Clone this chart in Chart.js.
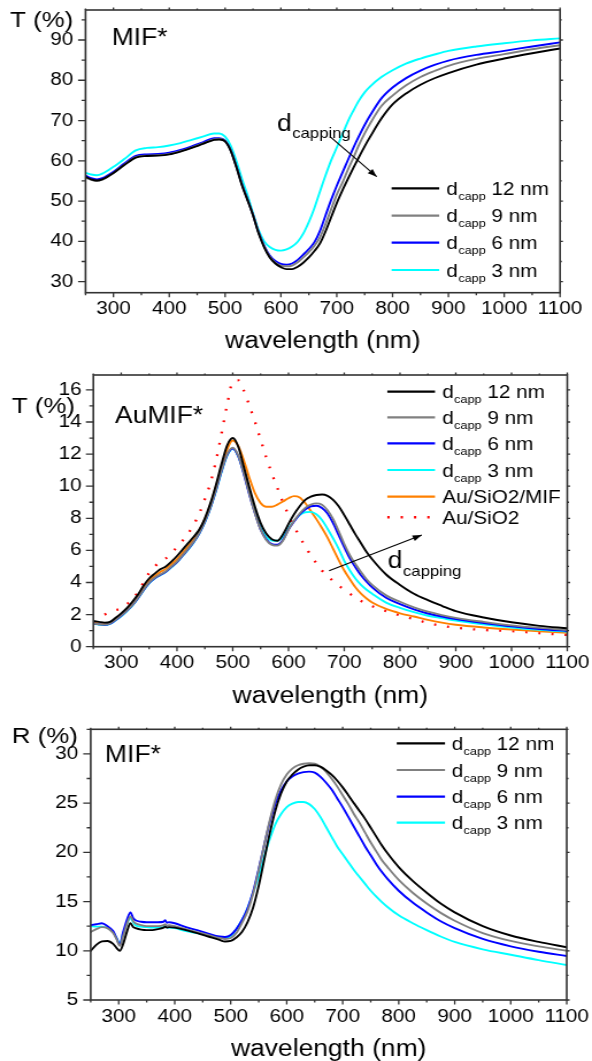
<!DOCTYPE html>
<html>
<head>
<meta charset="utf-8">
<script src="https://cdn.jsdelivr.net/npm/chart.js@4.4.1/dist/chart.umd.min.js"></script>
<style>
html,body{margin:0;padding:0;background:#fff;width:592px;height:1061px;overflow:hidden;position:relative}
canvas{position:absolute;left:0}
</style>
</head>
<body>
<canvas id="c1" width="515" height="355" style="top:0px;width:592px;height:355px"></canvas>
<canvas id="c2" width="515" height="355" style="top:355px;width:592px;height:355px"></canvas>
<canvas id="c3" width="515" height="353" style="top:710px;width:592px;height:353px"></canvas>
<script>
// ---------------- DATA ----------------
const xTicks = [300, 400, 500, 600, 700, 800, 900, 1000, 1100];

// Panel 1: transmission, MIF*
const p1Wavelength = [250,260,270,280,300,320,340,360,380,400,420,440,460,480,490,500,510,520,530,540,550,560,570,580,590,600,610,620,630,640,650,660,670,680,690,700,710,720,730,740,750,760,780,800,825,850,875,900,950,1000,1050,1100];
const p1T12 = [56.0,55.4,55.1,55.4,57.0,59.0,60.8,61.2,61.3,61.6,62.3,63.2,64.2,65.2,65.3,64.8,62.5,58.5,54.0,50.3,46.5,42.0,38.5,36.0,34.5,33.6,33.1,33.1,33.7,34.7,36.0,37.6,39.5,42.5,46.0,49.5,52.6,55.5,58.3,61.0,63.6,66.0,70.5,74.0,76.8,78.9,80.5,81.8,83.9,85.4,86.7,87.9];
const p1T9  = [55.8,55.3,55.0,55.3,57.0,59.1,60.9,61.3,61.4,61.7,62.4,63.3,64.3,65.3,65.4,64.9,62.6,58.6,54.2,50.4,46.5,42.2,38.7,36.2,34.7,34.0,33.8,34.0,34.8,36.0,37.3,38.9,41.0,44.3,48.0,51.6,54.5,57.8,60.8,64.0,66.8,69.3,73.6,76.2,78.8,80.8,82.3,83.6,85.3,86.5,87.7,88.7];
const p1T6  = [56.3,55.7,55.4,55.7,57.3,59.4,61.2,61.6,61.7,62.0,62.7,63.6,64.6,65.6,65.6,65.0,62.7,58.7,54.3,50.5,46.6,42.3,38.9,36.5,35.1,34.4,34.2,34.5,35.4,36.7,38.1,39.8,42.6,46.5,50.3,53.8,57.0,60.2,63.3,66.2,68.9,71.3,75.5,78.2,80.6,82.4,83.8,84.9,86.3,87.3,88.4,89.4];
const p1T3  = [57.0,56.6,56.4,56.8,58.5,60.5,62.6,63.2,63.4,63.8,64.4,65.2,66.0,66.8,66.8,66.0,63.8,60.0,55.6,51.5,47.0,42.8,40.0,38.6,37.9,37.7,38.0,38.7,39.9,41.9,44.8,48.3,52.4,56.4,60.1,63.3,66.5,69.8,72.5,75.0,77.0,78.5,80.8,82.5,84.2,85.4,86.4,87.3,88.4,89.2,89.9,90.4];
const p1YTicks = [30, 40, 50, 60, 70, 80, 90];

// Panel 2: transmission, AuMIF*
const p2Wavelength = [250,260,270,280,290,300,310,320,330,340,350,360,370,380,390,400,410,420,430,440,450,460,470,480,490,500,510,520,530,540,550,560,570,580,590,600,610,620,630,640,650,660,670,680,690,700,710,720,730,740,750,775,800,825,850,875,900,950,1000,1050,1100];
const p2T12 = [1.6,1.55,1.5,1.55,1.8,2.08,2.4,2.8,3.25,3.8,4.25,4.55,4.82,5.0,5.3,5.65,6.05,6.45,6.85,7.3,8.0,8.95,10.1,11.4,12.55,13.0,12.45,11.2,9.9,8.7,7.7,7.05,6.7,6.6,7.0,7.65,8.25,8.75,9.15,9.35,9.45,9.48,9.4,9.15,8.75,8.2,7.6,7.0,6.45,5.9,5.45,4.5,3.85,3.3,2.9,2.55,2.22,1.82,1.52,1.3,1.15];
const p2T9  = [1.45,1.4,1.38,1.45,1.68,1.95,2.25,2.6,3.05,3.55,4.0,4.3,4.5,4.7,5.0,5.3,5.7,6.1,6.55,7.1,7.8,8.7,9.8,11.0,12.0,12.4,11.9,10.8,9.5,8.3,7.3,6.65,6.35,6.3,6.6,7.3,7.85,8.3,8.65,8.85,8.93,8.85,8.5,7.95,7.2,6.4,5.7,5.15,4.65,4.2,3.85,3.2,2.8,2.45,2.18,1.97,1.8,1.55,1.33,1.17,1.04];
const p2T6  = [1.45,1.4,1.37,1.44,1.66,1.93,2.23,2.58,3.02,3.52,3.97,4.27,4.47,4.67,4.97,5.27,5.67,6.07,6.52,7.07,7.77,8.67,9.75,10.95,11.95,12.35,11.85,10.75,9.45,8.3,7.3,6.7,6.4,6.35,6.65,7.3,7.8,8.25,8.55,8.75,8.78,8.65,8.3,7.7,6.95,6.2,5.5,4.95,4.45,4.05,3.7,3.05,2.65,2.33,2.07,1.88,1.72,1.48,1.27,1.1,0.98];
const p2T3  = [1.42,1.38,1.35,1.42,1.64,1.9,2.2,2.55,3.0,3.5,3.95,4.25,4.45,4.65,4.95,5.25,5.65,6.05,6.5,7.05,7.75,8.65,9.7,10.9,11.9,12.35,11.85,10.8,9.55,8.4,7.45,6.85,6.62,6.6,6.85,7.4,7.85,8.2,8.38,8.4,8.25,7.9,7.35,6.75,6.1,5.35,4.75,4.25,3.85,3.55,3.3,2.75,2.42,2.15,1.93,1.78,1.63,1.4,1.2,1.05,0.93];
const p2AuSiO2MIF = [1.5,1.45,1.42,1.5,1.72,2.0,2.3,2.68,3.12,3.65,4.1,4.4,4.65,4.85,5.15,5.45,5.85,6.25,6.7,7.25,7.95,8.85,10.0,11.2,12.3,12.85,12.5,11.6,10.5,9.55,8.95,8.72,8.72,8.85,9.05,9.25,9.38,9.3,8.95,8.45,7.95,7.4,6.8,6.1,5.4,4.75,4.2,3.7,3.3,3.0,2.75,2.35,2.08,1.88,1.67,1.5,1.37,1.2,1.07,0.96,0.87];
const p2AuSiO2 = [null,null,2.0,2.15,2.28,2.38,2.65,2.95,3.4,4.0,4.6,5.0,5.3,5.5,5.85,6.2,6.6,7.05,7.6,8.3,9.2,10.2,11.6,13.3,15.1,16.5,16.6,15.95,15.0,14.0,12.9,11.8,10.8,9.9,9.0,8.2,7.5,6.85,6.25,5.7,5.2,4.75,4.4,4.1,3.8,3.55,3.3,3.05,2.85,2.68,2.52,2.22,1.95,1.72,1.48,1.3,1.18,1.04,0.97,0.84,0.73];
const p2YTicks = [0, 2, 4, 6, 8, 10, 12, 14, 16];

// Panel 3: reflection, MIF*
const p3Wavelength = [250,260,270,280,290,296,302,308,315,321,326,330,340,350,360,370,380,383,386,390,400,420,440,460,480,490,500,510,520,530,540,550,560,570,580,590,600,610,620,630,640,650,660,670,680,690,700,710,720,730,740,750,760,770,780,800,825,850,875,900,950,1000,1050,1100];
const p3R12 = [10.0,10.6,10.95,11.0,10.7,10.3,10.0,10.7,12.0,12.8,12.4,12.3,12.15,12.1,12.1,12.2,12.35,12.45,12.35,12.4,12.35,12.1,11.8,11.45,11.1,10.95,11.0,11.35,11.9,12.9,14.4,16.6,19.3,22.0,24.3,26.0,27.2,27.9,28.4,28.7,28.85,28.85,28.7,28.35,27.9,27.3,26.6,25.8,25.0,24.2,23.4,22.5,21.6,20.7,19.9,18.5,17.1,15.9,14.8,13.9,12.5,11.55,10.9,10.36];
const p3R9  = [11.9,12.2,12.4,12.3,11.8,11.2,10.5,11.5,12.8,13.5,13.0,12.8,12.6,12.5,12.5,12.5,12.6,12.7,12.55,12.6,12.5,12.2,11.9,11.6,11.3,11.2,11.3,11.8,12.8,14.0,15.8,18.2,20.8,23.3,25.4,26.9,27.9,28.5,28.85,29.0,29.05,29.0,28.7,28.2,27.5,26.7,25.8,24.9,23.9,23.0,22.0,21.0,20.1,19.2,18.5,17.2,15.9,14.8,13.85,13.05,11.8,11.0,10.45,10.0];
const p3R6  = [12.6,12.7,12.8,12.5,12.0,11.3,10.6,11.9,13.2,13.9,13.3,13.1,12.95,12.9,12.9,12.9,12.95,13.1,12.85,12.9,12.8,12.4,12.1,11.75,11.45,11.4,11.6,12.2,13.1,14.3,16.0,18.3,20.8,23.1,25.0,26.3,27.2,27.7,28.0,28.15,28.2,28.1,27.7,27.1,26.4,25.5,24.6,23.6,22.6,21.6,20.6,19.7,18.8,18.0,17.3,16.1,14.9,13.9,13.0,12.3,11.2,10.45,9.9,9.47];
const p3R3  = [12.5,12.45,12.45,12.3,11.9,11.3,10.7,11.8,12.8,13.3,12.9,12.6,12.45,12.4,12.35,12.35,12.4,12.5,12.35,12.35,12.3,12.0,11.8,11.55,11.35,11.3,11.5,12.2,13.1,14.3,15.9,17.6,19.6,21.4,22.9,23.9,24.6,24.95,25.12,25.12,24.9,24.4,23.6,22.6,21.6,20.6,19.8,19.0,18.2,17.5,16.8,16.1,15.5,14.95,14.45,13.6,12.8,12.1,11.45,10.9,10.15,9.6,9.05,8.56];
const p3YTicks = [5, 10, 15, 20, 25, 30];

const capLabels = ['12 nm', '9 nm', '6 nm', '3 nm'];

// ---------------- RENDERING ----------------
const S = 592 / 515;            // horizontal stretch of the picture
const FONT = '"Liberation Sans", Arial, Helvetica, sans-serif';
Chart.defaults.font.family = FONT;
Chart.defaults.color = '#000';

function cx(x) { return x / S; }

function series(xs, ys, color, parts, dash, width) {
  return {
    label: parts.join(''),
    legendParts: parts,
    data: xs.map((x, i) => ({ x: x, y: ys[i] })).filter(p => p.y !== null),
    borderColor: color,
    backgroundColor: color,
    borderWidth: width || 1.9,
    borderDash: dash || [],
    borderCapStyle: dash ? 'butt' : 'round',
    pointRadius: 0,
    fill: false,
    cubicInterpolationMode: 'monotone'
  };
}

function minorTicks(major, lo, hi) {
  const step = major[1] - major[0];
  const out = [];
  for (let v = major[0] - step / 2; v <= hi + 1e-9; v += step) if (v >= lo - 1e-9) out.push(v);
  return out;
}

function arrow(ctx, x0, y0, x1, y1) {
  const a0 = cx(x0), a1 = cx(x1);
  ctx.beginPath(); ctx.moveTo(a0, y0); ctx.lineTo(a1, y1); ctx.stroke();
  const ang = Math.atan2(y1 - y0, a1 - a0), L = 8, W = 3;
  ctx.beginPath();
  ctx.moveTo(a1, y1);
  ctx.lineTo(a1 - L * Math.cos(ang) + W * Math.sin(ang), y1 - L * Math.sin(ang) - W * Math.cos(ang));
  ctx.lineTo(a1 - L * Math.cos(ang) - W * Math.sin(ang), y1 - L * Math.sin(ang) + W * Math.cos(ang));
  ctx.closePath(); ctx.fill();
}

const decorPlugin = {
  id: 'decor',
  afterDraw(chart, args, o) {
    const ctx = chart.ctx, a = chart.chartArea, xs = chart.scales.x, ys = chart.scales.y;
    ctx.save();
    // frame
    ctx.strokeStyle = '#333'; ctx.lineWidth = 1.6; ctx.setLineDash([]);
    ctx.strokeRect(a.left, a.top, a.right - a.left, a.bottom - a.top);
    // ticks
    ctx.lineWidth = 1.3;
    ctx.beginPath();
    xTicks.forEach(v => { const p = xs.getPixelForValue(v);
      ctx.moveTo(p, a.bottom); ctx.lineTo(p, a.bottom + 4.5);
      ctx.moveTo(p, a.top); ctx.lineTo(p, a.top - 2.5); });
    minorTicks(xTicks, xs.min, xs.max).forEach(v => { const p = xs.getPixelForValue(v);
      ctx.moveTo(p, a.bottom); ctx.lineTo(p, a.bottom + 2.5);
      ctx.moveTo(p, a.top); ctx.lineTo(p, a.top - 1.5); });
    o.yTicks.forEach(v => { const p = ys.getPixelForValue(v);
      ctx.moveTo(a.left, p); ctx.lineTo(a.left - 6.5, p);
      ctx.moveTo(a.right, p); ctx.lineTo(a.right + 2.5, p); });
    minorTicks(o.yTicks, ys.min, ys.max).forEach(v => { const p = ys.getPixelForValue(v);
      ctx.moveTo(a.left, p); ctx.lineTo(a.left - 3.5, p);
      ctx.moveTo(a.right, p); ctx.lineTo(a.right + 1.5, p); });
    ctx.stroke();

    // texts
    ctx.fillStyle = '#000'; ctx.textBaseline = 'alphabetic'; ctx.textAlign = 'left';
    ctx.font = '22.5px ' + FONT;
    ctx.fillText(o.axisLabel.text, cx(o.axisLabel.x), o.axisLabel.y);
    ctx.font = '23px ' + FONT;
    ctx.fillText(o.tag.text, cx(o.tag.x), o.tag.y);

    // legend
    const L = o.legend;
    chart.data.datasets.forEach((d, i) => {
      const y = L.rows[i];
      ctx.strokeStyle = d.borderColor;
      ctx.lineWidth = d.borderDash.length ? 2.4 : 2.2;
      ctx.setLineDash(d.borderDash.length ? [2, 9.6] : []);
      ctx.beginPath(); ctx.moveTo(cx(L.x0), y); ctx.lineTo(cx(L.x1), y); ctx.stroke();
      ctx.setLineDash([]);
      let x = cx(L.tx);
      const parts = d.legendParts;
      ctx.font = '18px ' + FONT;
      ctx.fillText(parts[0], x, y + 6.5);
      if (parts.length === 3) {
        x += ctx.measureText(parts[0]).width + 0.3;
        ctx.font = '11px ' + FONT;
        ctx.fillText(parts[1], x, y + 11.5);
        x += ctx.measureText(parts[1]).width;
        ctx.font = '18px ' + FONT;
        ctx.fillText(parts[2], x, y + 6.5);
      }
    });

    // d_capping annotation
    if (o.note) {
      const n = o.note;
      ctx.font = '23px ' + FONT;
      ctx.fillText('d', cx(n.x), n.y);
      const w = ctx.measureText('d').width;
      ctx.font = '14.5px ' + FONT;
      ctx.fillText('capping', cx(n.x) + w + 0.5, n.sy);
      ctx.strokeStyle = '#000'; ctx.fillStyle = '#000'; ctx.lineWidth = 1.1;
      arrow(ctx, n.ax0, n.ay0, n.ax1, n.ay1);
    }
    ctx.restore();
  }
};

function buildChart(id, cfg) {
  const cv = document.getElementById(id);
  const W = cv.width, H = cv.height;
  return new Chart(cv, {
    type: 'line',
    data: { datasets: cfg.datasets },
    options: {
      responsive: false,
      animation: false,
      devicePixelRatio: 1,
      events: [],
      layout: { padding: { left: 0, top: cfg.top, right: W - cfg.right, bottom: 0 } },
      plugins: { legend: { display: false }, tooltip: { enabled: false }, decor: cfg.decor },
      scales: {
        x: {
          type: 'linear', min: 250, max: 1100,
          grid: { display: false, drawTicks: false }, border: { display: false },
          ticks: { padding: 5.8, color: '#000', font: { size: 18 }, maxRotation: 0, autoSkip: false,
                   callback: v => String(v) },
          afterBuildTicks: s => { s.ticks = xTicks.map(v => ({ value: v })); },
          afterFit: s => { s.height = H - cfg.bottom; s.paddingLeft = 0; s.paddingRight = 0; },
          title: { display: true, text: 'wavelength (nm)', color: '#000', font: { size: 23 }, padding: { top: 0, bottom: 0 } }
        },
        y: {
          type: 'linear', min: cfg.ymin, max: cfg.ymax,
          grid: { display: false, drawTicks: false }, border: { display: false },
          ticks: { padding: cfg.ypad, color: '#000', font: { size: 18 }, autoSkip: false, callback: v => String(v) },
          afterBuildTicks: s => { s.ticks = cfg.decor.yTicks.map(v => ({ value: v })); },
          afterFit: s => { s.width = cfg.left; s.paddingTop = 0; s.paddingBottom = 0; }
        }
      }
    },
    plugins: [decorPlugin]
  });
}

const capParts = capLabels.map(l => ['d', 'capp', ' ' + l]);

buildChart('c1', {
  top: 10, bottom: 292.7, left: 74.4, right: 487.2, ymin: 27.25, ymax: 97.45, ypad: 10.6,
  datasets: [
    series(p1Wavelength, p1T12, '#000000', capParts[0]),
    series(p1Wavelength, p1T9, '#808080', capParts[1]),
    series(p1Wavelength, p1T6, '#0000ff', capParts[2]),
    series(p1Wavelength, p1T3, '#00ffff', capParts[3])
  ],
  decor: {
    yTicks: p1YTicks,
    axisLabel: { text: 'T (%)', x: 10, y: 26.7 },
    tag: { text: 'MIF*', x: 111.7, y: 45 },
    legend: { x0: 391.6, x1: 439.2, tx: 446.4, rows: [188.3, 215.7, 242.7, 270] },
    note: { x: 277, y: 130.7, sy: 138.3, ax0: 330, ay0: 136.7, ax1: 376.7, ay1: 176.7 }
  }
});

buildChart('c2', {
  top: 20, bottom: 291.7, left: 81.2, right: 493.5, ymin: 0, ymax: 16.93, ypad: 10.2,
  datasets: [
    series(p2Wavelength, p2T12, '#000000', capParts[0]),
    series(p2Wavelength, p2T9, '#808080', capParts[1]),
    series(p2Wavelength, p2T6, '#0000ff', capParts[2]),
    series(p2Wavelength, p2T3, '#00ffff', capParts[3]),
    series(p2Wavelength, p2AuSiO2MIF, '#ff8000', ['Au/SiO2/MIF']),
    series(p2Wavelength, p2AuSiO2, '#ff0000', ['Au/SiO2'], [1.8, 9.6], 2.3)
  ],
  decor: {
    yTicks: p2YTicks,
    axisLabel: { text: 'T (%)', x: 11.7, y: 58.3 },
    tag: { text: 'AuMIF*', x: 115, y: 68.3 },
    legend: { x0: 387.3, x1: 435, tx: 442.3, rows: [36.7, 62.3, 88.3, 115, 141.7, 162.3] },
    note: { x: 387.7, y: 213.3, sy: 220.5, ax0: 329.1, ay0: 215.7, ax1: 421.8, ay1: 180 }
  }
});

buildChart('c3', {
  top: 19.3, bottom: 290, left: 78.9, right: 493.0, ymin: 5, ymax: 32.5, ypad: 10.8,
  datasets: [
    series(p3Wavelength, p3R12, '#000000', capParts[0]),
    series(p3Wavelength, p3R9, '#808080', capParts[1]),
    series(p3Wavelength, p3R6, '#0000ff', capParts[2]),
    series(p3Wavelength, p3R3, '#00ffff', capParts[3])
  ],
  decor: {
    yTicks: p3YTicks,
    axisLabel: { text: 'R (%)', x: 11.7, y: 742.7 - 710 },
    tag: { text: 'MIF*', x: 105, y: 761.7 - 710 },
    legend: { x0: 396.7, x1: 445, tx: 451.7, rows: [33.3, 60, 86.7, 112.7] },
    note: null
  }
});
</script>
</body>
</html>
